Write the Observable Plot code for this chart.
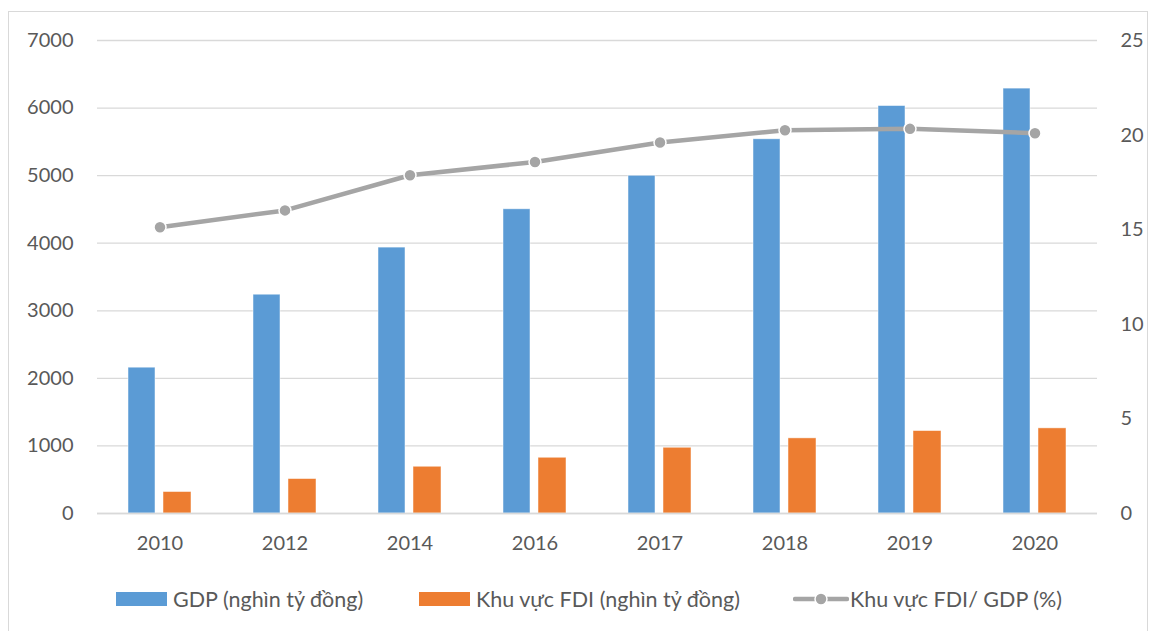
<!DOCTYPE html>
<html>
<head>
<meta charset="utf-8">
<script src="https://cdn.jsdelivr.net/npm/d3@7"></script>
<script src="https://cdn.jsdelivr.net/npm/@observablehq/plot@0.6"></script>
<style>
  html, body { margin: 0; padding: 0; background: #fff; }
  body { width: 1149px; height: 631px; position: relative; overflow: hidden; font-family: Lato, "Open Sans", sans-serif; }
  #frame { position: absolute; left: 8px; top: 11px; width: 1140px; height: 630px; border: 1px solid #d9d9d9; box-sizing: border-box; }
  #chart { position: absolute; left: 0; top: 0; }
  #legend { position: absolute; left: 0; top: 586px; width: 1149px; height: 26px; font-size: 21.5px; color: #595959; }
  .item { position: absolute; top: 0; display: flex; align-items: center; height: 26px; white-space: nowrap; }
  .sw { width: 51px; height: 14px; margin-right: 6px; }
</style>
</head>
<body>
<div id="frame"></div>
<div id="chart"></div>
<div id="legend"></div>
<script>
// Years on the category axis
const years = ["2010", "2012", "2014", "2016", "2017", "2018", "2019", "2020"];
// GDP, thousand billion VND
const gdp = [2158, 3238, 3935, 4502, 4998, 5538, 6030, 6288];
// FDI sector output, thousand billion VND
const fdi = [318, 510, 692, 825, 973, 1112, 1220, 1260];
// FDI share of GDP, %
const pct = [15.13, 16.02, 17.88, 18.58, 19.61, 20.26, 20.33, 20.1];

const leftTicks = [0, 1000, 2000, 3000, 4000, 5000, 6000, 7000];
const rightTicks = [0, 5, 10, 15, 20, 25];

const colors = { gdp: "#5b9bd5", fdi: "#ed7d31", pct: "#a5a5a5" };
const labels = {
  gdp: "GDP (nghìn tỷ đồng)",
  fdi: "Khu vực FDI (nghìn tỷ đồng)",
  pct: "Khu vực FDI/ GDP (%)"
};

// The percentage series shares the left y scale: 25 % maps onto 7000
const ratio = 7000 / 25;

const rows = years.map((year, i) => ({ year, gdp: gdp[i], fdi: fdi[i], pct: pct[i], pctScaled: pct[i] * ratio }));

const chart = Plot.plot({
  width: 1149,
  height: 570,
  marginLeft: 97,
  marginRight: 52,
  marginTop: 40,
  marginBottom: 57,
  style: { fontFamily: "Lato, 'Open Sans', sans-serif", fontSize: "20px", color: "#595959", background: "transparent" },
  x: { type: "band", domain: years, padding: 0, label: null },
  y: { domain: [0, 7000], label: null },
  marks: [
    Plot.gridY(leftTicks, { stroke: "#d9d9d9", strokeOpacity: 1, strokeWidth: 1.3 }),
    Plot.barY(rows, { x: "year", y: "gdp", fill: colors.gdp, insetLeft: 31, insetRight: 67, stroke: "#fff", strokeWidth: 0.8, strokeOpacity: 0.6 }),
    Plot.barY(rows, { x: "year", y: "fdi", fill: colors.fdi, insetLeft: 66, insetRight: 31, stroke: "#fff", strokeWidth: 0.8, strokeOpacity: 0.6 }),
    Plot.ruleY([0], { stroke: "#d9d9d9", strokeWidth: 1.3 }),
    Plot.line(rows, { x: "year", y: "pctScaled", stroke: colors.pct, strokeWidth: 4.5, strokeLinejoin: "round", strokeLinecap: "round" }),
    Plot.dot(rows, { x: "year", y: "pctScaled", r: 6, fill: colors.pct, stroke: "#fff", strokeWidth: 1.5 }),
    Plot.axisY(leftTicks, { anchor: "left", tickSize: 0, tickPadding: 24, label: null, tickFormat: d => String(d), fill: "#595959" }),
    Plot.axisY(rightTicks.map(v => v * ratio), { anchor: "right", tickSize: 0, tickPadding: 23, label: null, tickFormat: d => String(Math.round(d / ratio)), fill: "#595959" }),
    Plot.axisX({ tickSize: 0, tickPadding: 22, label: null, fill: "#595959" })
  ]
});
document.getElementById("chart").appendChild(chart);

// Legend beneath the plot
const legend = document.getElementById("legend");
const items = [
  { key: "gdp", left: 116, kind: "bar" },
  { key: "fdi", left: 419, kind: "bar" },
  { key: "pct", left: 793, kind: "line" }
];
for (const it of items) {
  const el = document.createElement("div");
  el.className = "item";
  el.style.left = it.left + "px";
  if (it.kind === "bar") {
    const sw = document.createElement("div");
    sw.className = "sw";
    sw.style.background = colors[it.key];
    el.appendChild(sw);
  } else {
    const ns = "http://www.w3.org/2000/svg";
    const svg = document.createElementNS(ns, "svg");
    svg.setAttribute("width", "56");
    svg.setAttribute("height", "14");
    svg.style.marginRight = "1px";
    const ln = document.createElementNS(ns, "line");
    ln.setAttribute("x1", "2"); ln.setAttribute("x2", "54");
    ln.setAttribute("y1", "7"); ln.setAttribute("y2", "7");
    ln.setAttribute("stroke", colors.pct); ln.setAttribute("stroke-width", "4.5");
    ln.setAttribute("stroke-linecap", "round");
    const c = document.createElementNS(ns, "circle");
    c.setAttribute("cx", "28"); c.setAttribute("cy", "7"); c.setAttribute("r", "6");
    c.setAttribute("fill", colors.pct); c.setAttribute("stroke", "#fff"); c.setAttribute("stroke-width", "1.5");
    svg.appendChild(ln); svg.appendChild(c);
    el.appendChild(svg);
  }
  const t = document.createElement("span");
  t.textContent = labels[it.key];
  el.appendChild(t);
  legend.appendChild(el);
}
</script>
</body>
</html>
